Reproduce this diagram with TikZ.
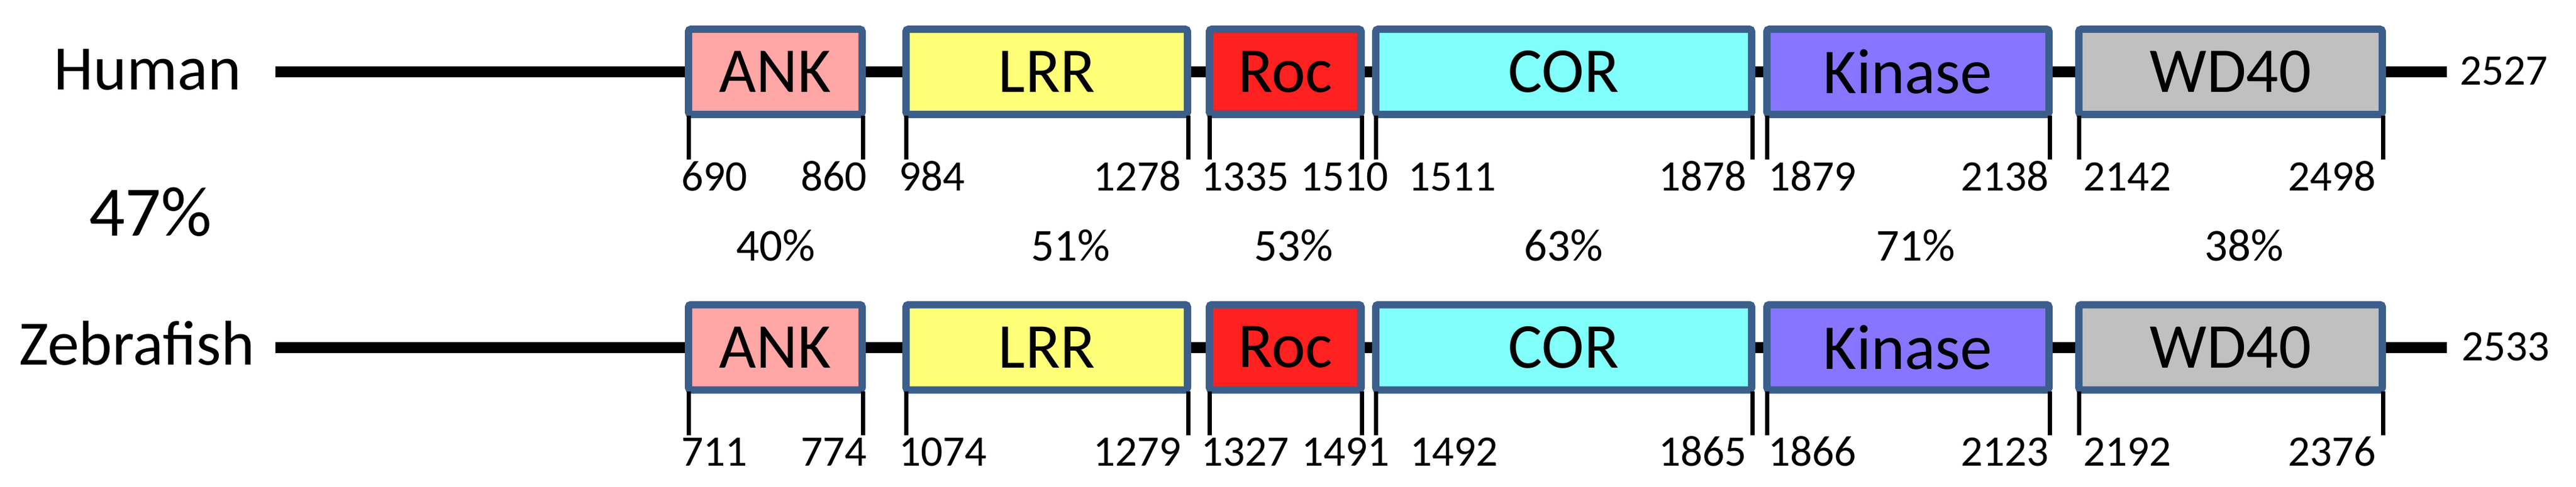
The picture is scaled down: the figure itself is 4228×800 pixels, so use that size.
\documentclass[tikz,border=0pt]{standalone}
\usepackage{fontspec}
\setmainfont{Carlito}
\usetikzlibrary{backgrounds}
\definecolor{bord}{RGB}{59,94,139}
\definecolor{ankc}{RGB}{255,166,166}
\definecolor{lrrc}{RGB}{255,255,119}
\definecolor{rocc}{RGB}{255,32,32}
\definecolor{corc}{RGB}{128,255,250}
\definecolor{kinc}{RGB}{135,117,255}
\definecolor{wdc}{RGB}{192,192,192}
\tikzset{
  dombox/.style={draw=bord, line width=2.4pt, rounded corners=0.8pt, outer sep=0pt, inner sep=0pt,
    minimum height=28pt, font=\fontsize{21}{25}\selectfont},
  backbone/.style={line width=3.6pt, black},
  tickline/.style={line width=1.4pt, black},
  numlbl/.style={inner sep=0pt, font=\fontsize{14.3}{17}\selectfont},
  pctlbl/.style={inner sep=0pt, anchor=base, font=\fontsize{15}{18}\selectfont},
  species/.style={inner sep=0pt, anchor=base west, font=\fontsize{20.8}{25}\selectfont}
}
\newcommand\protrow[2]{%
  \node[dombox, fill=ankc, minimum width=57pt]   (#1ank) at (1272.5,#2) {ANK};
  \node[dombox, fill=lrrc, minimum width=92.4pt] (#1lrr) at (1718,#2) {LRR};
  \node[dombox, fill=rocc, minimum width=49.8pt] (#1roc) at (2109.5,#2) {Roc};
  \node[dombox, fill=corc, minimum width=123.4pt](#1cor) at (2566.5,#2) {COR};
  \node[dombox, fill=kinc, minimum width=92.6pt] (#1kin) at (3131.5,#2) {Kinase};
  \node[dombox, fill=wdc,  minimum width=99.6pt] (#1wd)  at (3661,#2) {WD40};
  \coordinate (#1start) at (452,#2);
  \coordinate (#1end) at (4016,#2);
  \begin{pgfonlayer}{background}
    \draw[backbone] (#1start) -- (#1ank.west);
    \draw[backbone] (#1ank.east) -- (#1lrr.west);
    \draw[backbone] (#1lrr.east) -- (#1roc.west);
    \draw[backbone] (#1roc.east) -- (#1cor.west);
    \draw[backbone] (#1cor.east) -- (#1kin.west);
    \draw[backbone] (#1kin.east) -- (#1wd.west);
    \draw[backbone] (#1wd.east) -- (#1end);
  \end{pgfonlayer}
  \foreach \b in {ank,lrr,roc,cor,kin,wd}{
    \draw[tickline] ([yshift=-0.4pt]#1\b.south west) -- ++(0,72);
    \draw[tickline] ([xshift=0.2pt,yshift=-0.4pt]#1\b.south east) -- ++(0,72);
  }
}
\begin{document}
\begin{tikzpicture}[x=0.2pt,y=-0.2pt]
\useasboundingbox (0,0) rectangle (4228,800);
\begin{pgfonlayer}{background}
\fill[white] (0,0) rectangle (4228,800);
\end{pgfonlayer}

\protrow{h}{118}
\protrow{z}{570.5}

\node[species] (humanlbl) at (88,147) {Human};
\node[species] (zebralbl) at (30,599) {Zebrafish};
\node[species, font=\fontsize{23.3}{28}\selectfont] (total) at (145,387) {47\%};

% human numbers
\node[numlbl, anchor=base west] (h1) at (1117,313) {690};
\node[numlbl, anchor=base east] (h2) at (1424,313) {860};
\node[numlbl, anchor=base west] (h3) at (1474,313) {984};
\node[numlbl, anchor=base east] (h4) at (1940,313) {1278};
\node[numlbl, anchor=base west] (h5) at (1970,313) {1335};
\node[numlbl, anchor=base west] (h6) at (2133,313) {1510};
\node[numlbl, anchor=base west] (h7) at (2310,313) {1511};
\node[numlbl, anchor=base east] (h8) at (2868,313) {1878};
\node[numlbl, anchor=base west] (h9) at (2901,313) {1879};
\node[numlbl, anchor=base east] (h10) at (3364,313) {2138};
\node[numlbl, anchor=base west] (h11) at (3418,313) {2142};
\node[numlbl, anchor=base east] (h12) at (3901,313) {2498};
\node[numlbl, anchor=base west] (hlen) at (4036,140) {2527};

% zebrafish numbers
\node[numlbl, anchor=base west] (z1) at (1117,765) {711};
\node[numlbl, anchor=base east] (z2) at (1424,765) {774};
\node[numlbl, anchor=base west] (z3) at (1474,765) {1074};
\node[numlbl, anchor=base east] (z4) at (1940,765) {1279};
\node[numlbl, anchor=base west] (z5) at (1970,765) {1327};
\node[numlbl, anchor=base west] (z6) at (2135,765) {1491};
\node[numlbl, anchor=base west] (z7) at (2313,765) {1492};
\node[numlbl, anchor=base east] (z8) at (2868,765) {1865};
\node[numlbl, anchor=base west] (z9) at (2901,765) {1866};
\node[numlbl, anchor=base east] (z10) at (3364,765) {2123};
\node[numlbl, anchor=base west] (z11) at (3418,765) {2192};
\node[numlbl, anchor=base east] (z12) at (3901,765) {2376};
\node[numlbl, anchor=base west] (zlen) at (4039,592) {2533};

% identities
\node[pctlbl] (p1) at (1273,428) {40\%};
\node[pctlbl] (p2) at (1757,428) {51\%};
\node[pctlbl] (p3) at (2123,428) {53\%};
\node[pctlbl] (p4) at (2566,428) {63\%};
\node[pctlbl] (p5) at (3144,428) {71\%};
\node[pctlbl] (p6) at (3683,428) {38\%};
\end{tikzpicture}
\end{document}
